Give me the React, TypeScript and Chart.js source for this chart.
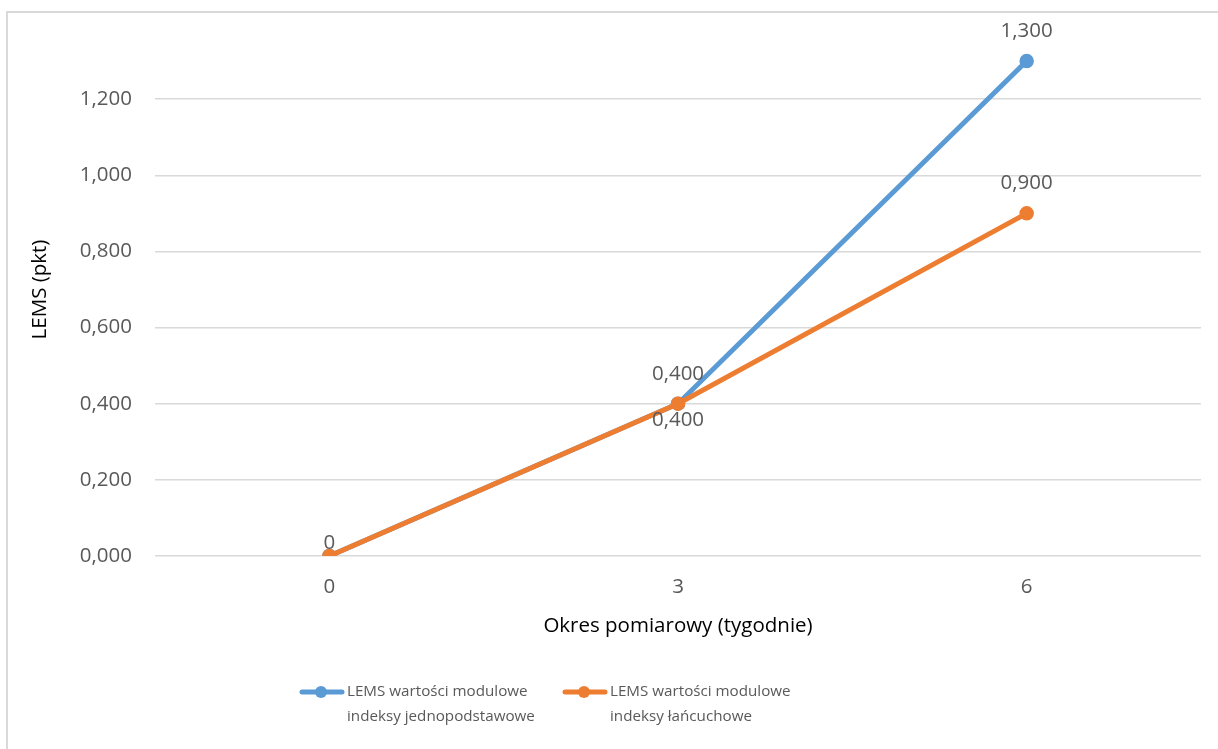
import React, { useEffect, useRef } from "react";
import { Chart, registerables } from "chart.js";

Chart.register(...registerables);

// Measurement periods (weeks)
const weeks = ["0", "3", "6"];

// LEMS module values
const seriesFixedBase = [0, 0.4, 1.3];
const seriesChain = [0, 0.4, 0.9];

const seriesNames = [
  ["LEMS wartości modulowe", "indeksy jednopodstawowe"],
  ["LEMS wartości modulowe", "indeksy łańcuchowe"],
];

const yTicks = [0, 0.2, 0.4, 0.6, 0.8, 1.0, 1.2];

const BLUE = "#5B9BD5";
const ORANGE = "#ED7D31";
const TEXT = "#595959";
const GRID = "#D9D9D9";
const FONT = "'Open Sans', 'DejaVu Sans', sans-serif";
const SIZE = 20.5;

const fmt = (v: number) => (v === 0 ? "0" : v.toFixed(3).replace(".", ","));
const fmtAxis = (v: number) => v.toFixed(3).replace(".", ",");

// Frame around the whole chart object
const framePlugin = {
  id: "frame",
  beforeDraw(chart: any) {
    const { ctx } = chart;
    ctx.save();
    ctx.fillStyle = "#ffffff";
    ctx.fillRect(0, 0, chart.width, chart.height);
    ctx.strokeStyle = GRID;
    ctx.lineWidth = 2;
    ctx.strokeRect(7, 12, chart.width + 20, chart.height + 20);
    ctx.restore();
  },
};

// Value labels next to each point; placement per dataset/point
const valueLabelPlugin = {
  id: "valueLabels",
  afterDatasetsDraw(chart: any) {
    const { ctx } = chart;
    ctx.save();
    ctx.font = `${SIZE}px ${FONT}`;
    ctx.fillStyle = TEXT;
    ctx.textAlign = "center";
    ctx.textBaseline = "middle";
    chart.data.datasets.forEach((ds: any, di: number) => {
      const meta = chart.getDatasetMeta(di);
      const place: string[] = ds.labelPlacement || [];
      meta.data.forEach((pt: any, i: number) => {
        const p = place[i];
        if (!p || p === "none") return;
        let dy = -30;
        if (p === "below") dy = 16;
        if (p === "near") dy = -13;
        ctx.fillText(fmt(ds.data[i]), pt.x, pt.y + dy);
      });
    });
    ctx.restore();
  },
};

// Two-line legend below the axis title
const legendPlugin = {
  id: "twoLineLegend",
  afterDraw(chart: any) {
    const { ctx } = chart;
    const starts = [300, 563];
    ctx.save();
    ctx.font = `15.2px ${FONT}`;
    ctx.textBaseline = "middle";
    ctx.textAlign = "left";
    chart.data.datasets.forEach((ds: any, di: number) => {
      const x0 = starts[di];
      const y0 = 692;
      ctx.strokeStyle = ds.borderColor;
      ctx.lineWidth = 5;
      ctx.lineCap = "round";
      ctx.beginPath();
      ctx.moveTo(x0 + 2, y0);
      ctx.lineTo(x0 + 42, y0);
      ctx.stroke();
      ctx.fillStyle = ds.borderColor;
      ctx.beginPath();
      ctx.arc(x0 + 21, y0, 6, 0, Math.PI * 2);
      ctx.fill();
      ctx.fillStyle = TEXT;
      const lines: string[] = seriesNames[di];
      lines.forEach((t, li) => ctx.fillText(t, x0 + 47, y0 + li * 25));
    });
    ctx.restore();
  },
};

export default function App() {
  const ref = useRef<HTMLCanvasElement | null>(null);

  useEffect(() => {
    if (!ref.current) return;
    const chart = new Chart(ref.current, {
      type: "line",
      data: {
        labels: weeks,
        datasets: [
          {
            label: seriesNames[0].join(" "),
            data: seriesFixedBase,
            borderColor: BLUE,
            backgroundColor: BLUE,
            borderWidth: 5,
            pointRadius: 6.5,
            pointBorderWidth: 1.5,
            pointHoverRadius: 6.5,
            order: 1,
            labelPlacement: ["none", "above", "above"],
          } as any,
          {
            label: seriesNames[1].join(" "),
            data: seriesChain,
            borderColor: ORANGE,
            backgroundColor: ORANGE,
            borderWidth: 5,
            pointRadius: 6.5,
            pointBorderWidth: 1.5,
            pointHoverRadius: 6.5,
            order: 0,
            labelPlacement: ["near", "below", "above"],
          } as any,
        ],
      },
      options: {
        animation: false,
        responsive: false,
        maintainAspectRatio: false,
        layout: { padding: { left: 8, top: 23, right: 17, bottom: 111 } },
        plugins: {
          legend: { display: false },
          tooltip: { enabled: false },
        },
        scales: {
          x: {
            offset: true,
            grid: { display: false, drawTicks: false },
            border: { display: false },
            ticks: {
              color: TEXT,
              font: { family: FONT, size: SIZE },
              padding: 19,
            },
            title: {
              display: true,
              text: "Okres pomiarowy (tygodnie)",
              color: "#000000",
              font: { family: FONT, size: SIZE },
              padding: { top: 0, bottom: 0 },
            },
            afterFit: (scale: any) => {
              scale.height = 82;
            },
          },
          y: {
            min: 0,
            max: 1.4,
            afterBuildTicks: (scale: any) => {
              scale.ticks = [...yTicks, 1.4].map((v) => ({ value: v }));
            },
            grid: {
              drawTicks: false,
              color: (c: any) => (c.tick && c.tick.value > 1.3 ? "rgba(0,0,0,0)" : GRID),
              lineWidth: 1.5,
            },
            border: { display: false },
            ticks: {
              color: TEXT,
              font: { family: FONT, size: SIZE },
              padding: 23,
              callback: (v: any) => (Number(v) > 1.3 ? "" : fmtAxis(Number(v))),
            },
            title: {
              display: true,
              text: "LEMS (pkt)",
              color: "#000000",
              font: { family: FONT, size: SIZE },
              padding: { top: 20, bottom: 0 },
            },
            afterFit: (scale: any) => {
              scale.width = 147;
              scale.paddingTop = 0;
              scale.paddingBottom = 0;
            },
          },
        },
      },
      plugins: [framePlugin, valueLabelPlugin, legendPlugin],
    });
    return () => chart.destroy();
  }, []);

  return (
    <div style={{ position: "absolute", left: 0, top: 0, width: 1218, height: 749, overflow: "hidden" }}>
      <canvas ref={ref} width={1218} height={749} style={{ display: "block" }} />
    </div>
  );
}
